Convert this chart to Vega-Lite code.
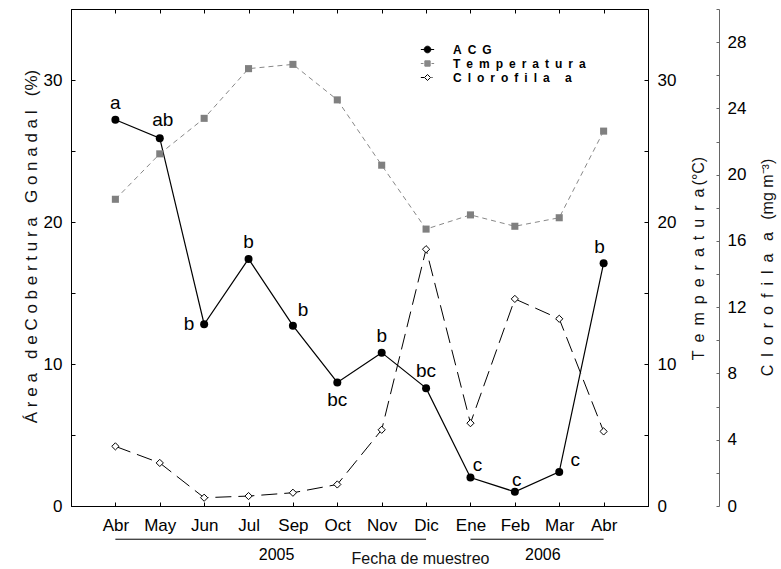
{
  "$schema": "https://vega.github.io/schema/vega-lite/v6.json",
  "width": 577,
  "height": 497,
  "autosize": {"type": "none"},
  "padding": {"left": 71, "top": 9, "right": 133, "bottom": 63},
  "background": "white",
  "config": {
    "view": {"stroke": "#000", "strokeWidth": 1},
    "font": "Liberation Sans",
    "axis": {
      "grid": false,
      "domainColor": "#000",
      "tickColor": "#000",
      "labelColor": "#000",
      "titleColor": "#111",
      "labelFont": "Liberation Sans",
      "titleFont": "Liberation Sans",
      "titleFontWeight": "normal"
    }
  },
  "datasets": {
    "muestreo": [
      {"fecha": "Abr 2005", "acg": 27.2, "letra": "a", "temp": 21.6, "clor": 3.6},
      {"fecha": "May 2005", "acg": 25.9, "letra": "ab", "temp": 24.8, "clor": 2.6},
      {"fecha": "Jun 2005", "acg": 12.8, "letra": "b", "temp": 27.3, "clor": 0.5},
      {"fecha": "Jul 2005", "acg": 17.4, "letra": "b", "temp": 30.8, "clor": 0.6},
      {"fecha": "Sep 2005", "acg": 12.7, "letra": "b", "temp": 31.1, "clor": 0.8},
      {"fecha": "Oct 2005", "acg": 8.7, "letra": "bc", "temp": 28.6, "clor": 1.3},
      {"fecha": "Nov 2005", "acg": 10.8, "letra": "b", "temp": 24.0, "clor": 4.6},
      {"fecha": "Dic 2005", "acg": 8.3, "letra": "bc", "temp": 19.5, "clor": 15.5},
      {"fecha": "Ene 2006", "acg": 2.0, "letra": "c", "temp": 20.5, "clor": 5.0},
      {"fecha": "Feb 2006", "acg": 1.0, "letra": "c", "temp": 19.7, "clor": 12.5},
      {"fecha": "Mar 2006", "acg": 2.4, "letra": "c", "temp": 20.3, "clor": 11.3},
      {"fecha": "Abr 2006", "acg": 17.1, "letra": "b", "temp": 26.4, "clor": 4.5}
    ],
    "anios": [
      {"anio": "2005", "inicio": "Abr 2005", "fin": "Dic 2005", "ref": "Jul 2005"},
      {"anio": "2006", "inicio": "Ene 2006", "fin": "Abr 2006", "ref": "Feb 2006"}
    ]
  },
  "resolve": {"scale": {"y": "independent"}},
  "layer": [
    {
      "data": {"name": "muestreo"},
      "mark": {"type": "line", "strokeWidth": 1.2},
      "encoding": {
        "x": {
          "field": "fecha", "type": "nominal", "sort": null,
          "scale": {"type": "point", "padding": 1, "domain": ["Abr 2005", "May 2005", "Jun 2005", "Jul 2005", "Sep 2005", "Oct 2005", "Nov 2005", "Dic 2005", "Ene 2006", "Feb 2006", "Mar 2006", "Abr 2006"]},
          "axis": {
            "orient": "bottom",
            "labelExpr": "split(datum.label, ' ')[0]",
            "labelAngle": 0,
            "labelFontSize": 17,
            "labelPadding": 15,
            "tickSize": -4,
            "title": "Fecha de muestreo",
            "titleFontSize": 16,
            "titleX": 349,
            "titleY": 57,
            "titleAlign": "center",
            "titleBaseline": "alphabetic"
          }
        },
        "y": {
          "field": "acg", "type": "quantitative",
          "scale": {"domain": [0, 35], "nice": false},
          "axis": {
            "orient": "left",
            "values": [0, 5, 10, 15, 20, 25, 30, 35],
            "labelExpr": "datum.value % 10 === 0 ? datum.label : ''",
            "tickSize": -4,
            "labelPadding": 13,
            "labelFontSize": 17,
            "title": "Á r e a\u00a0\u00a0 d e C o b e r t u r a\u00a0\u00a0 G o n a d a l\u00a0\u00a0 (%)",
            "titleFontSize": 17,
            "titleX": -40,
            "titleY": 237,
            "titleAngle": 270,
            "titleAlign": "center",
            "titleBaseline": "middle"
          }
        },
        "color": {
          "datum": "ACG",
          "scale": {"domain": ["ACG", "Temperatura", "Clorofila a"], "range": ["#000000", "#888888", "#000000"]},
          "legend": {
            "orient": "none",
            "legendX": 349,
            "legendY": 33,
            "title": null,
            "direction": "vertical",
            "padding": 0,
            "rowPadding": 0,
            "symbolSize": 177,
            "symbolStrokeWidth": 1,
            "labelFont": "Liberation Sans",
            "labelFontSize": 12,
            "labelFontWeight": "bold",
            "labelColor": "#000",
            "labelOffset": 18,
            "labelExpr": "join(split(datum.label, ''), '\u2002')",
            "encode": {
              "symbols": {
                "update": {
                  "shape": {"signal": "datum.value === 'ACG' ? 'M-1,0L1,0M0.5,0A0.5,0.5,0,1,1,-0.5,0A0.5,0.5,0,1,1,0.5,0Z' : datum.value === 'Temperatura' ? 'M-1,0L-0.6,0M0.6,0L1,0M-0.4,-0.4L0.4,-0.4L0.4,0.4L-0.4,0.4Z' : 'M-1,0L-0.5,0M0.6,0L0.75,0M-0.45,0L0,-0.45L0.45,0L0,0.45Z'"},
                  "fill": {"signal": "datum.value === 'ACG' ? '#000' : datum.value === 'Temperatura' ? '#888' : '#fff'"},
                  "stroke": {"signal": "datum.value === 'Temperatura' ? '#888' : '#000'"},
                  "strokeWidth": {"value": 1},
                  "opacity": {"value": 1}
                }
              }
            }
          }
        }
      }
    },
    {
      "data": {"name": "muestreo"},
      "mark": {"type": "point", "shape": "circle", "filled": true, "size": 64, "color": "#000", "opacity": 1},
      "encoding": {
        "x": {"field": "fecha", "type": "nominal", "sort": null, "axis": null},
        "y": {"field": "acg", "type": "quantitative", "scale": {"domain": [0, 35], "nice": false}, "axis": null}
      }
    },
    {
      "data": {"name": "muestreo"},
      "transform": [{"filter": {"field": "fecha", "oneOf": ["Abr 2005", "Jul 2005", "Nov 2005", "Dic 2005"]}}],
      "mark": {"type": "text", "fontSize": 19, "color": "#000", "baseline": "alphabetic", "dy": -11},
      "encoding": {
        "x": {"field": "fecha", "type": "nominal", "sort": null, "axis": null},
        "y": {"field": "acg", "type": "quantitative", "scale": {"domain": [0, 35], "nice": false}, "axis": null},
        "text": {"field": "letra"}
      }
    },
    {
      "data": {"name": "muestreo"},
      "transform": [{"filter": {"field": "fecha", "equal": "May 2005"}}],
      "mark": {"type": "text", "fontSize": 19, "color": "#000", "baseline": "alphabetic", "dx": 3, "dy": -12},
      "encoding": {
        "x": {"field": "fecha", "type": "nominal", "sort": null, "axis": null},
        "y": {"field": "acg", "type": "quantitative", "scale": {"domain": [0, 35], "nice": false}, "axis": null},
        "text": {"field": "letra"}
      }
    },
    {
      "data": {"name": "muestreo"},
      "transform": [{"filter": {"field": "fecha", "equal": "Abr 2006"}}],
      "mark": {"type": "text", "fontSize": 19, "color": "#000", "baseline": "alphabetic", "dx": -4, "dy": -10},
      "encoding": {
        "x": {"field": "fecha", "type": "nominal", "sort": null, "axis": null},
        "y": {"field": "acg", "type": "quantitative", "scale": {"domain": [0, 35], "nice": false}, "axis": null},
        "text": {"field": "letra"}
      }
    },
    {
      "data": {"name": "muestreo"},
      "transform": [{"filter": {"field": "fecha", "equal": "Jun 2005"}}],
      "mark": {"type": "text", "fontSize": 19, "color": "#000", "baseline": "alphabetic", "dx": -15, "dy": 6},
      "encoding": {
        "x": {"field": "fecha", "type": "nominal", "sort": null, "axis": null},
        "y": {"field": "acg", "type": "quantitative", "scale": {"domain": [0, 35], "nice": false}, "axis": null},
        "text": {"field": "letra"}
      }
    },
    {
      "data": {"name": "muestreo"},
      "transform": [{"filter": {"field": "fecha", "equal": "Sep 2005"}}],
      "mark": {"type": "text", "fontSize": 19, "color": "#000", "baseline": "alphabetic", "dx": 10, "dy": -10},
      "encoding": {
        "x": {"field": "fecha", "type": "nominal", "sort": null, "axis": null},
        "y": {"field": "acg", "type": "quantitative", "scale": {"domain": [0, 35], "nice": false}, "axis": null},
        "text": {"field": "letra"}
      }
    },
    {
      "data": {"name": "muestreo"},
      "transform": [{"filter": {"field": "fecha", "equal": "Oct 2005"}}],
      "mark": {"type": "text", "fontSize": 19, "color": "#000", "baseline": "alphabetic", "dy": 24},
      "encoding": {
        "x": {"field": "fecha", "type": "nominal", "sort": null, "axis": null},
        "y": {"field": "acg", "type": "quantitative", "scale": {"domain": [0, 35], "nice": false}, "axis": null},
        "text": {"field": "letra"}
      }
    },
    {
      "data": {"name": "muestreo"},
      "transform": [{"filter": {"field": "fecha", "equal": "Ene 2006"}}],
      "mark": {"type": "text", "fontSize": 19, "color": "#000", "baseline": "alphabetic", "dx": 7, "dy": -7},
      "encoding": {
        "x": {"field": "fecha", "type": "nominal", "sort": null, "axis": null},
        "y": {"field": "acg", "type": "quantitative", "scale": {"domain": [0, 35], "nice": false}, "axis": null},
        "text": {"field": "letra"}
      }
    },
    {
      "data": {"name": "muestreo"},
      "transform": [{"filter": {"field": "fecha", "equal": "Feb 2006"}}],
      "mark": {"type": "text", "fontSize": 19, "color": "#000", "baseline": "alphabetic", "dx": 2, "dy": -6},
      "encoding": {
        "x": {"field": "fecha", "type": "nominal", "sort": null, "axis": null},
        "y": {"field": "acg", "type": "quantitative", "scale": {"domain": [0, 35], "nice": false}, "axis": null},
        "text": {"field": "letra"}
      }
    },
    {
      "data": {"name": "muestreo"},
      "transform": [{"filter": {"field": "fecha", "equal": "Mar 2006"}}],
      "mark": {"type": "text", "fontSize": 19, "color": "#000", "baseline": "alphabetic", "dx": 16, "dy": -6},
      "encoding": {
        "x": {"field": "fecha", "type": "nominal", "sort": null, "axis": null},
        "y": {"field": "acg", "type": "quantitative", "scale": {"domain": [0, 35], "nice": false}, "axis": null},
        "text": {"field": "letra"}
      }
    },
    {
      "data": {"name": "anios"},
      "mark": {"type": "rule", "color": "#000", "strokeWidth": 1},
      "encoding": {
        "x": {"field": "inicio", "type": "nominal", "sort": null, "axis": null},
        "x2": {"field": "fin"},
        "y": {"datum": -2.34, "type": "quantitative", "scale": {"domain": [0, 35], "nice": false}, "axis": null}
      }
    },
    {
      "data": {"name": "anios"},
      "mark": {"type": "text", "fontSize": 16, "color": "#000", "baseline": "alphabetic", "dx": 28},
      "encoding": {
        "x": {"field": "ref", "type": "nominal", "sort": null, "axis": null},
        "y": {"datum": -3.8, "type": "quantitative", "scale": {"domain": [0, 35], "nice": false}, "axis": null},
        "text": {"field": "anio"}
      }
    },
    {
      "data": {"name": "muestreo"},
      "mark": {"type": "line", "strokeWidth": 1, "strokeDash": [5, 4]},
      "encoding": {
        "x": {
          "field": "fecha", "type": "nominal", "sort": null,
          "axis": {"orient": "top", "labels": false, "title": null, "tickSize": -4}
        },
        "y": {
          "field": "temp", "type": "quantitative",
          "scale": {"domain": [0, 35], "nice": false},
          "axis": {
            "orient": "right",
            "values": [0, 5, 10, 15, 20, 25, 30, 35],
            "labelExpr": "datum.value % 10 === 0 ? datum.label : ''",
            "tickSize": -4,
            "labelPadding": 13,
            "labelFontSize": 17,
            "title": "T\u2002e\u2002m\u2002p\u2002e\u2002r\u2002a\u2002t\u2002u\u2002r\u2002a\u2009(°C)",
            "titleFontSize": 16,
            "titleX": 50,
            "titleY": 249,
            "titleAngle": 270,
            "titleAlign": "center",
            "titleBaseline": "middle"
          }
        },
        "color": {"datum": "Temperatura"}
      }
    },
    {
      "data": {"name": "muestreo"},
      "mark": {"type": "point", "shape": "square", "filled": true, "size": 50, "color": "#808080", "opacity": 1},
      "encoding": {
        "x": {"field": "fecha", "type": "nominal", "sort": null, "axis": null},
        "y": {"field": "temp", "type": "quantitative", "scale": {"domain": [0, 35], "nice": false}, "axis": null}
      }
    },
    {
      "data": {"name": "muestreo"},
      "mark": {"type": "line", "strokeWidth": 1, "strokeDash": [16, 7]},
      "encoding": {
        "x": {"field": "fecha", "type": "nominal", "sort": null, "axis": null},
        "y": {
          "field": "clor", "type": "quantitative",
          "scale": {"domain": [0, 30], "nice": false},
          "axis": {
            "orient": "right",
            "offset": 71,
            "values": [0, 2, 4, 6, 8, 10, 12, 14, 16, 18, 20, 22, 24, 26, 28, 30],
            "labelExpr": "datum.value % 4 === 0 ? datum.label : ''",
            "tickSize": -3,
            "labelPadding": 11,
            "labelFontSize": 17,
            "domainColor": "#666",
            "tickColor": "#666",
            "title": "C\u2002l\u2002o\u2002r\u2002o\u2002f\u2002i\u2002l\u2002a\u2002 a\u2002 (mg m⁻³)",
            "titleFontSize": 16,
            "titleX": 48,
            "titleY": 258,
            "titleAngle": 270,
            "titleAlign": "center",
            "titleBaseline": "middle"
          }
        },
        "color": {"datum": "Clorofila a"}
      }
    },
    {
      "data": {"name": "muestreo"},
      "mark": {"type": "point", "shape": "diamond", "filled": true, "size": 52, "fill": "#fff", "stroke": "#000", "strokeWidth": 1, "opacity": 1},
      "encoding": {
        "x": {"field": "fecha", "type": "nominal", "sort": null, "axis": null},
        "y": {"field": "clor", "type": "quantitative", "scale": {"domain": [0, 30], "nice": false}, "axis": null}
      }
    }
  ]
}
